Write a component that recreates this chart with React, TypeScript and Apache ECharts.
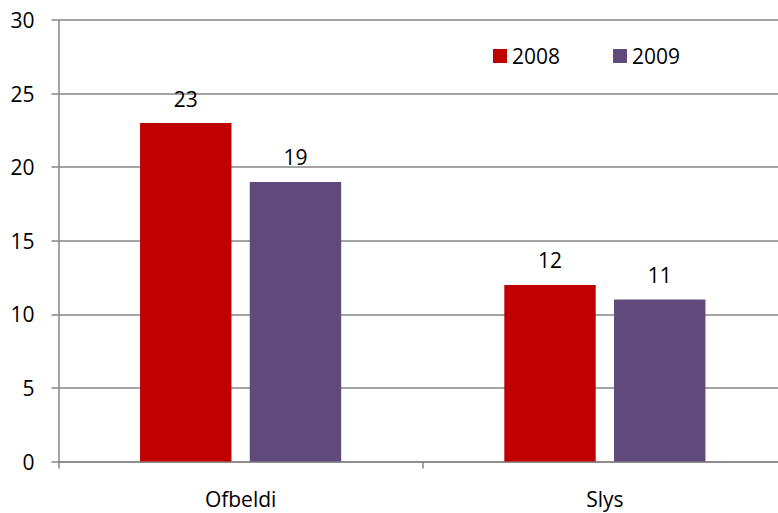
import React, { useEffect, useRef } from "react";
import * as echarts from "echarts";

const categories = ["Ofbeldi", "Slys"];
const seriesNames = ["2008", "2009"];
const values2008 = [23, 12];
const values2009 = [19, 11];
const colors = ["#C00000", "#604A7B"];

export default function App() {
  const ref = useRef<HTMLDivElement>(null);
  useEffect(() => {
    if (!ref.current) return;
    const chart = echarts.init(ref.current, undefined, { renderer: "svg" });
    const font = "'Open Sans', sans-serif";
    const axisGray = "#868686";
    const fs = 21;
    chart.setOption({
      animation: false,
      textStyle: { fontFamily: font },
      grid: { left: 58.5, right: 0, top: 20, bottom: 51.5, containLabel: false },
      legend: {
        left: 488,
        top: 40.5,
        itemWidth: 14,
        itemHeight: 14,
        itemGap: 53,
        icon: "rect",
        data: seriesNames,
        textStyle: { fontFamily: font, fontSize: fs, color: "#000" },
      },
      xAxis: {
        type: "category",
        data: categories,
        boundaryGap: true,
        axisLine: { lineStyle: { color: axisGray, width: 1.5 } },
        axisTick: { show: true, length: 7, lineStyle: { color: axisGray, width: 1.5 } },
        axisLabel: { fontFamily: font, fontSize: fs, color: "#000", margin: 27 },
      },
      yAxis: {
        type: "value",
        min: 0,
        max: 30,
        interval: 5,
        axisLine: { show: true, lineStyle: { color: axisGray, width: 1.5 } },
        axisTick: { show: true, length: 7, lineStyle: { color: axisGray, width: 1.5 } },
        splitLine: { show: true, lineStyle: { color: axisGray, width: 1.5 } },
        axisLabel: { fontFamily: font, fontSize: fs, color: "#000", margin: 24 },
      },
      series: [
        {
          name: seriesNames[0],
          type: "bar",
          data: values2008,
          barWidth: "25.1%",
          barGap: "20%",
          itemStyle: { color: colors[0] },
          label: { show: true, position: "top", distance: 14, fontFamily: font, fontSize: fs, color: "#000" },
        },
        {
          name: seriesNames[1],
          type: "bar",
          data: values2009,
          barWidth: "25.1%",
          barGap: "20%",
          itemStyle: { color: colors[1] },
          label: { show: true, position: "top", distance: 14, fontFamily: font, fontSize: fs, color: "#000" },
        },
      ],
    });
    return () => chart.dispose();
  }, []);
  return (
    <div style={{ position: "fixed", left: 0, top: 0, width: 778, height: 513, overflow: "hidden", background: "#fff" }}>
      <div ref={ref} style={{ position: "absolute", left: 0, top: 0, width: 787, height: 513 }} />
    </div>
  );
}
